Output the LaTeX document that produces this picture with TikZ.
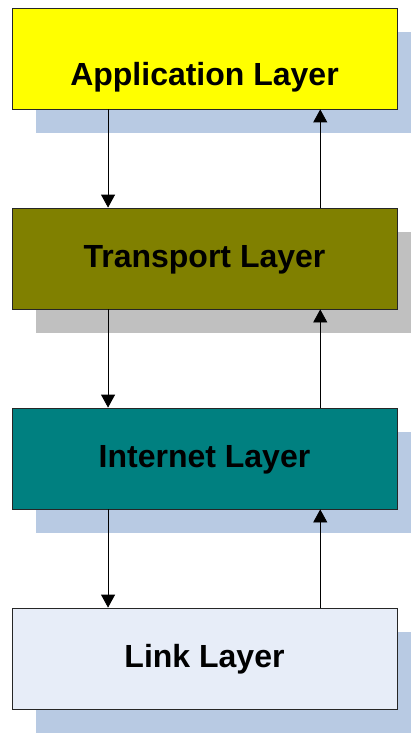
\documentclass[tikz,border=0pt]{standalone}
\usepackage{fontspec}
\setmainfont{Liberation Sans}
\usetikzlibrary{arrows.meta, positioning, shadows, calc}

\definecolor{appyellow}{HTML}{FFFF00}
\definecolor{transolive}{HTML}{808000}
\definecolor{netteal}{HTML}{008080}
\definecolor{linkpale}{HTML}{E7EDF8}
\definecolor{shadowblue}{HTML}{B8CAE3}
\definecolor{shadowgray}{HTML}{C0C0C0}

\begin{document}
\begin{tikzpicture}[node distance=200pt,on grid,>={Triangle[width=14pt,length=13pt]},
	layer/.style={draw=black!85, line width=0.8pt, minimum width=385pt, minimum height=101pt,
		inner sep=0pt, text height=23pt, text depth=6pt, font=\bfseries\fontsize{32}{38}\selectfont},
	blueshadow/.style={drop shadow={shadow xshift=24pt, shadow yshift=-24pt, fill=shadowblue, opacity=1}},
	grayshadow/.style={drop shadow={shadow xshift=24pt, shadow yshift=-24pt, fill=shadowgray, opacity=1}}]
	
	\useasboundingbox (0,0) rectangle (411pt,-733pt);
	
	\node (app) [layer, blueshadow, fill=appyellow, text height=54pt, text depth=0pt] at (204.5pt,-58.5pt) {Application Layer};
	\node (trans) [layer, grayshadow, fill=transolive, below = of app] {Transport Layer};
	\node (net) [layer, blueshadow, fill=netteal, below = of trans] {Internet Layer};
	\node (link) [layer, blueshadow, fill=linkpale, below = of net] {Link Layer};
	
	% down on the left, up on the right
	\path [->, line width=0.8pt]
	($(app.south west)!0.25!(app.south east)$) edge ($(trans.north west)!0.25!(trans.north east)$)
	($(trans.south west)!0.25!(trans.south east)$) edge ($(net.north west)!0.25!(net.north east)$)
	($(net.south west)!0.25!(net.south east)$) edge ($(link.north west)!0.25!(link.north east)$)
	($(link.north west)!0.8!(link.north east)$) edge ($(net.south west)!0.8!(net.south east)$)
	($(net.north west)!0.8!(net.north east)$) edge ($(trans.south west)!0.8!(trans.south east)$)
	($(trans.north west)!0.8!(trans.north east)$) edge ($(app.south west)!0.8!(app.south east)$);
	
\end{tikzpicture}
\end{document}
